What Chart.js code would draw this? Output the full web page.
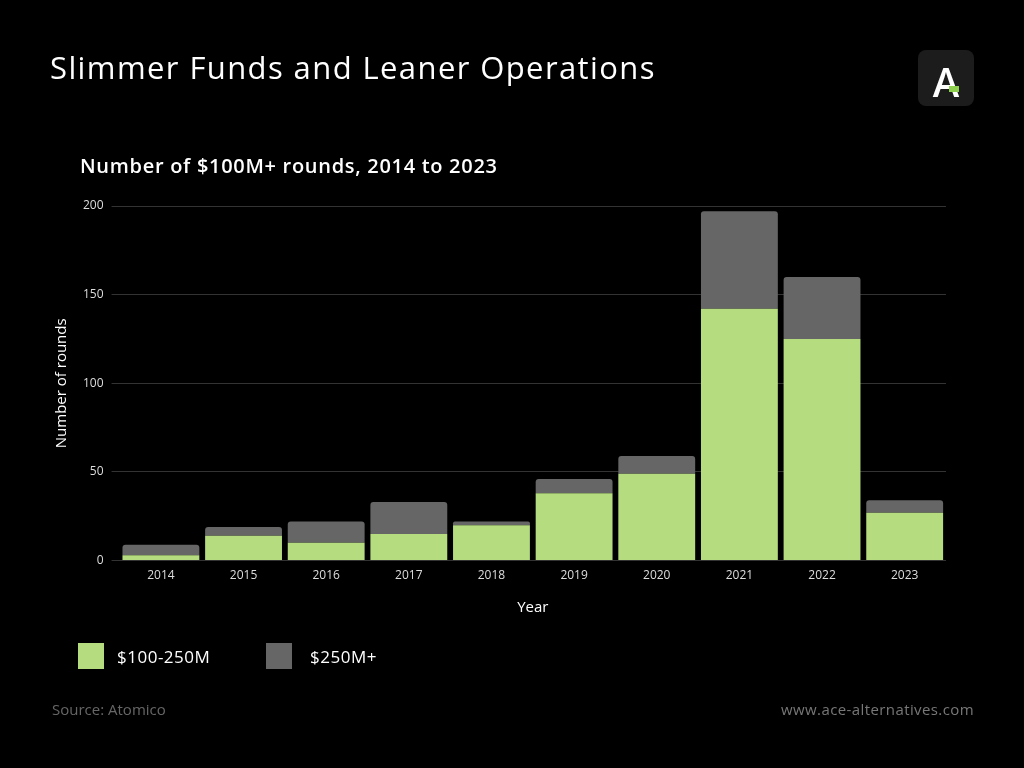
<!DOCTYPE html>
<html><head><meta charset="utf-8">
<script src="https://cdn.jsdelivr.net/npm/chart.js@4"></script>
<style>
body{margin:0;background:#000;width:1024px;height:768px;overflow:hidden;font-family:"Open Sans",sans-serif;color:#fff;position:relative}
#c{position:absolute;left:0;top:0}
.t{position:absolute;white-space:nowrap}
</style></head><body>
<canvas id="c" width="1024" height="768"></canvas>
<div class="t" style="left:50px;top:46px;font-size:31px;letter-spacing:1.4px">Slimmer Funds and Leaner Operations</div>
<div style="position:absolute;left:918px;top:50px;width:56px;height:56px;border-radius:8px;background:#1c1c1c;"><div style="position:absolute;left:0;width:56px;top:4px;text-align:center;font-size:40px;font-weight:600;color:#fff">A</div><div style="position:absolute;left:31px;top:36px;width:10px;height:6px;background:#8fd14f"></div></div>
<div class="t" style="left:80px;top:152px;font-size:20px;font-weight:600;letter-spacing:0.7px">Number of $100M+ rounds, 2014 to 2023</div>
<div style="position:absolute;left:78px;top:643px;width:26px;height:26px;background:#b5dc7f"></div>
<div class="t" style="left:117px;top:645px;font-size:17px;letter-spacing:0.5px">$100-250M</div>
<div style="position:absolute;left:266px;top:643px;width:26px;height:26px;background:#666"></div>
<div class="t" style="left:310px;top:645px;font-size:17px;letter-spacing:0.5px">$250M+</div>
<div class="t" style="left:52px;top:699px;font-size:15px;color:#666">Source: Atomico</div>
<div class="t" style="right:50px;top:699px;font-size:15px;color:#777;letter-spacing:0.4px">www.ace-alternatives.com</div>
<script>
const years=["2014","2015","2016","2017","2018","2019","2020","2021","2022","2023"];
const small=[3,14,10,15,20,38,49,142,125,27];
const large=[6,5,12,18,2,8,10,55,35,7];
const yTicks=[0,50,100,150,200];
new Chart(document.getElementById('c'),{type:'bar',
data:{labels:years,datasets:[
{label:'$100-250M',data:small,backgroundColor:'#b5dc7f',borderRadius:0},
{label:'$250M+',data:large,backgroundColor:'#666666',borderRadius:{topLeft:3,topRight:3}}]},
options:{responsive:false,animation:false,
layout:{padding:{left:49,top:206,right:78,bottom:147}},
plugins:{legend:{display:false},tooltip:{enabled:false}},
datasets:{bar:{categoryPercentage:1,barPercentage:0.93}},
scales:{
x:{stacked:true,grid:{display:false},border:{display:false},ticks:{color:'#ddd',padding:0,font:{size:12,family:'Open Sans'}},
 title:{display:true,text:'Year',color:'#fff',font:{size:15,family:'Open Sans'},padding:{top:16}}},
y:{stacked:true,min:0,max:200,afterBuildTicks:a=>{a.ticks=yTicks.map(v=>({value:v}))},
 grid:{color:'#333'},border:{display:false},ticks:{color:'#ddd',font:{size:12,family:'Open Sans'},padding:8},
 title:{display:true,text:'Number of rounds',color:'#fff',font:{size:15,family:'Open Sans'}}}}}});
</script></body></html>
